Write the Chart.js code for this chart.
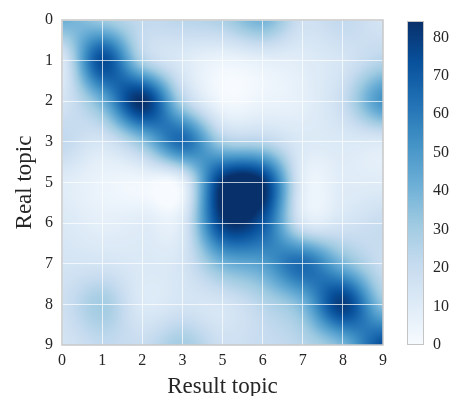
<!DOCTYPE html>
<html>
<head>
<meta charset="utf-8" />
<title>Real topic vs result topic</title>
<script src="https://cdn.jsdelivr.net/npm/chart.js"></script>
<style>html,body{margin:0;padding:0;background:#fff} #wrap{width:451px;height:396px}</style>
</head>
<body>
<div id="wrap"><canvas id="chart"></canvas></div>
<script>
const topicLabels = ['0', '1', '2', '3', '5', '6', '7', '8', '9'];

// one row per real topic, one value per result topic
const realTopic0 = [42, 32, 22, 24, 28, 40, 18, 22, 15];
const realTopic1 = [12, 75, 28, 12, 5, 8, 10, 15, 25];
const realTopic2 = [15, 42, 84, 28, 3, 5, 8, 20, 52];
const realTopic3 = [22, 15, 35, 65, 30, 25, 12, 12, 12];
const realTopic5 = [10, 5, 3, 8, 84, 84, 10, 10, 10];
const realTopic6 = [12, 8, 10, 12, 80, 72, 15, 15, 20];
const realTopic7 = [15, 15, 12, 15, 40, 48, 65, 40, 20];
const realTopic8 = [18, 30, 12, 15, 15, 25, 40, 80, 35];
const realTopic9 = [15, 22, 20, 30, 18, 20, 25, 40, 75];
const matrix = [realTopic0, realTopic1, realTopic2, realTopic3, realTopic5,
  realTopic6, realTopic7, realTopic8, realTopic9];

const colorTicks = [0, 10, 20, 30, 40, 50, 60, 70, 80];
const colorMax = 84;

const FONT = 'Liberation Serif';
const TEXT = '#262626';

const blues = [[247, 251, 255], [222, 235, 247], [198, 219, 239], [158, 202, 225],
  [107, 174, 214], [66, 146, 198], [33, 113, 181], [8, 81, 156], [8, 48, 107]];

function bluesColor(t) {
  t = Math.min(1, Math.max(0, t)) * (blues.length - 1);
  const i = Math.min(blues.length - 2, Math.floor(t));
  const f = t - i;
  return blues[i].map((c, k) => Math.round(c + (blues[i + 1][k] - c) * f));
}

function cubicW(x) {
  const a = -0.5;
  x = Math.abs(x);
  if (x <= 1) return (a + 2) * x * x * x - (a + 3) * x * x + 1;
  if (x < 2) return a * x * x * x - 5 * a * x * x + 8 * a * x - 4 * a;
  return 0;
}

// bicubic lookup on the grid of dataset points
function sampleGrid(grid, u, v) {
  const n = grid.length, m = grid[0].length;
  const i0 = Math.floor(v), j0 = Math.floor(u);
  let sum = 0;
  for (let di = -1; di <= 2; di++) {
    const wi = cubicW(v - (i0 + di));
    const ii = Math.min(n - 1, Math.max(0, i0 + di));
    for (let dj = -1; dj <= 2; dj++) {
      const wj = cubicW(u - (j0 + dj));
      const jj = Math.min(m - 1, Math.max(0, j0 + dj));
      sum += wi * wj * grid[ii][jj];
    }
  }
  return sum;
}

const points = [];
matrix.forEach((row, r) => row.forEach((val, c) => points.push({ x: c, y: r, v: val })));

const heatmap = {
  id: 'heatmap',
  beforeDraw(chart) {
    const { ctx, chartArea: a, scales: { x, y, cbar } } = chart;
    const pts = chart.data.datasets[0].data;
    const grid = [];
    pts.forEach((p) => {
      (grid[p.y] = grid[p.y] || [])[p.x] = p.v;
    });

    const w = Math.round(a.right - a.left), h = Math.round(a.bottom - a.top);
    const off = document.createElement('canvas');
    off.width = w; off.height = h;
    const octx = off.getContext('2d');
    const img = octx.createImageData(w, h);
    for (let py = 0; py < h; py++) {
      const v = Math.min(8, Math.max(0, y.getValueForPixel(a.top + py + 0.5)));
      for (let px = 0; px < w; px++) {
        const u = Math.min(8, Math.max(0, x.getValueForPixel(a.left + px + 0.5)));
        const col = bluesColor(sampleGrid(grid, u, v) / colorMax);
        const k = (py * w + px) * 4;
        img.data[k] = col[0]; img.data[k + 1] = col[1]; img.data[k + 2] = col[2]; img.data[k + 3] = 255;
      }
    }
    octx.putImageData(img, 0, 0);
    ctx.drawImage(off, a.left, a.top);

    // colour bar
    const top = cbar.getPixelForValue(colorMax), bottom = cbar.getPixelForValue(0);
    const bx = cbar.left + 24, bw = 16;
    for (let py = Math.floor(top); py < bottom; py++) {
      const c = bluesColor(cbar.getValueForPixel(py + 0.5) / colorMax);
      ctx.fillStyle = `rgb(${c[0]},${c[1]},${c[2]})`;
      ctx.fillRect(bx, py, bw, 1);
    }
    ctx.strokeStyle = '#c4c4c4';
    ctx.lineWidth = 1;
    ctx.strokeRect(bx + 0.5, Math.floor(top) + 0.5, bw, Math.round(bottom - top));
  },
  afterDraw(chart) {
    const { ctx, chartArea: a } = chart;
    ctx.save();
    ctx.strokeStyle = '#c8c8c8';
    ctx.lineWidth = 1.5;
    ctx.strokeRect(a.left, a.top, a.right - a.left, a.bottom - a.top);
    ctx.restore();
  },
};

const tickFont = { family: FONT, size: 16 };
const titleFont = { family: FONT, size: 23 };
const gridColor = 'rgba(255,255,255,0.7)';
const indexTicks = (s) => { s.ticks = topicLabels.map((_, i) => ({ value: i })); };
const noVPad = (w) => (s) => { s.width = w; s.paddingTop = 0; s.paddingBottom = 0; };

new Chart(document.getElementById('chart'), {
  type: 'scatter',
  data: {
    datasets: [{ data: points, pointRadius: 0, xAxisID: 'x', yAxisID: 'y' }],
  },
  options: {
    responsive: true,
    maintainAspectRatio: false,
    animation: false,
    layout: { padding: { top: 20, left: 0, right: 0, bottom: 0 } },
    plugins: { legend: { display: false }, tooltip: { enabled: false } },
    scales: {
      x: {
        type: 'linear', position: 'bottom', min: 0, max: 8,
        afterBuildTicks: indexTicks,
        afterFit: (s) => { s.height = 51; s.paddingLeft = 0; s.paddingRight = 0; },
        ticks: { callback: (v) => topicLabels[v], font: tickFont, color: TEXT, padding: 6, maxRotation: 0, autoSkip: false },
        grid: { color: gridColor, lineWidth: 1, drawTicks: false },
        border: { display: false },
        title: { display: true, text: 'Result topic', color: TEXT, font: titleFont, padding: { top: 0, bottom: -5 } },
      },
      y: {
        type: 'linear', position: 'left', min: 0, max: 8, reverse: true,
        afterBuildTicks: indexTicks,
        afterFit: noVPad(62),
        ticks: { callback: (v) => topicLabels[v], font: tickFont, color: TEXT, padding: 9, autoSkip: false },
        grid: { color: gridColor, lineWidth: 1, drawTicks: false },
        border: { display: false },
        title: { display: true, text: 'Real topic', color: TEXT, font: titleFont, padding: { top: 11, bottom: 0 } },
      },
      cbar: {
        type: 'linear', position: 'right', min: 0, max: 84.5,
        afterBuildTicks: (s) => { s.ticks = colorTicks.map((v) => ({ value: v })); },
        afterFit: noVPad(68),
        ticks: { font: tickFont, color: TEXT, padding: 50 },
        grid: { display: false, drawTicks: false },
        border: { display: false },
      },
    },
  },
  plugins: [heatmap],
});
</script>
</body>
</html>
